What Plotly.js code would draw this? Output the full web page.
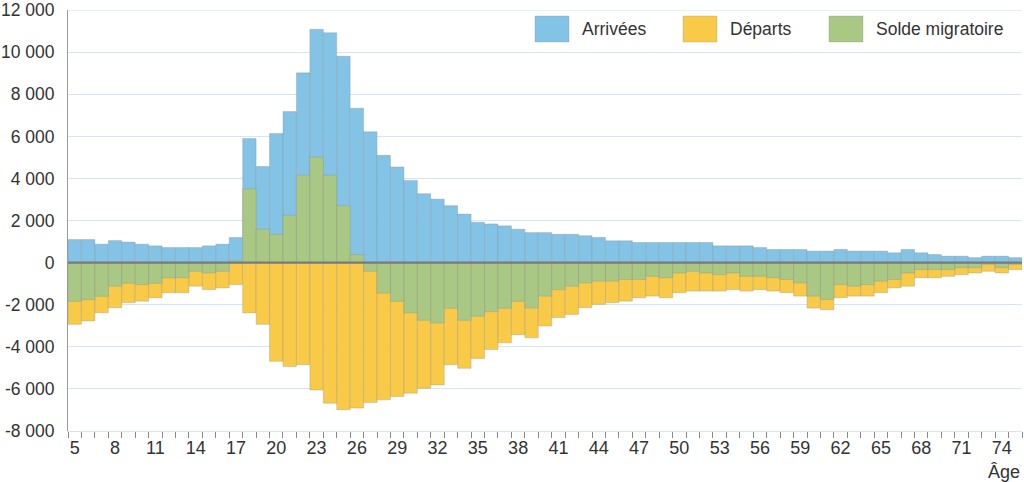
<!DOCTYPE html>
<html>
<head>
<meta charset="utf-8">
<script src="https://cdn.plot.ly/plotly-3.0.1.min.js"></script>
<style>html,body{margin:0;padding:0;background:#fff;}#chart{width:1024px;height:482px;}</style>
</head>
<body>
<div id="chart"></div>
<script>
const ages = [];
for (let a = 5; a <= 75; a++) ages.push(a);

const arrivees = [1100,1100,880,1050,980,880,800,720,720,720,800,880,1200,
  5900,4570,6140,7180,9020,11090,10930,9810,7340,6220,5100,4550,3910,3280,3020,2710,2310,1920,1840,1750,1590,
  1430,1430,1350,1350,1280,1200,1040,1040,960,960,960,960,960,960,800,800,800,720,630,630,630,550,550,630,550,550,550,470,630,470,390,310,310,240,310,310,240];

const departs = [-2930,-2770,-2380,-2140,-1900,-1830,-1670,-1430,-1430,-1120,-1280,-1200,-1040,
  -2390,-2930,-4690,-4940,-4850,-6050,-6680,-6990,-6910,-6650,-6520,-6360,-6200,-5970,-5810,-4850,-5020,-4550,-4130,-3810,-3420,
  -3570,-3010,-2610,-2460,-2140,-1980,-1900,-1830,-1670,-1590,-1670,-1430,-1350,-1350,-1350,-1280,-1350,-1280,-1350,-1430,-1590,-2160,-2240,-1670,-1590,-1590,-1430,-1200,-1120,-720,-720,-650,-570,-490,-410,-490,-330];

const solde = [-1840,-1760,-1600,-1120,-980,-1040,-980,-720,-720,-410,-490,-410,90,
  3510,1590,1350,2250,4160,5020,4160,2710,380,-410,-1450,-1840,-2390,-2740,-2870,-2170,-2740,-2550,-2330,-2170,-1840,
  -2160,-1590,-1280,-1120,-960,-880,-880,-800,-800,-650,-720,-490,-410,-490,-570,-490,-650,-650,-720,-800,-960,-1590,-1750,-1040,-1120,-1040,-880,-800,-490,-330,-330,-330,-240,-240,-80,-240,-80];

const seriesNames = ["Arrivées", "Départs", "Solde migratoire"];
const colors = ["#82c3e6", "#f9ca48", "#a8c884"];

const xTickVals = [5,8,11,14,17,20,23,26,29,32,35,38,41,44,47,50,53,56,59,62,65,68,71,74];
const yTickVals = [-8000,-6000,-4000,-2000,0,2000,4000,6000,8000,10000,12000];
const yTickText = ["-8 000","-6 000","-4 000","-2 000","0","2 000","4 000","6 000","8 000","10 000","12 000"];

const font = "Liberation Sans, Arial, sans-serif";
const edge = {color: "rgba(140,140,140,0.55)", width: 0.6};

const data = [arrivees, departs, solde].map((vals, i) => ({
  type: "bar", x: ages, y: vals, name: seriesNames[i],
  marker: {color: colors[i], line: edge}, width: 1, showlegend: false, hoverinfo: "x+y+name"
}));

const M = {l: 68, r: 2, t: 10, b: 51};
const plotW = 1024 - M.l - M.r, plotH = 482 - M.t - M.b;
const px = v => (v - M.l) / plotW;
const py = v => (482 - M.b - v) / plotH;

// Custom legend (large swatches)
const legX = [[535,569,580],[683,717,728],[829,863,874]];
const shapes = [];
const annotations = [];
legX.forEach((p, i) => {
  shapes.push({type: "rect", xref: "paper", yref: "paper", x0: px(p[0]), x1: px(p[1]), y0: py(42), y1: py(16),
    fillcolor: colors[i], line: {color: "rgba(140,140,140,0.5)", width: 0.6}});
  annotations.push({xref: "paper", yref: "paper", x: px(p[2]), y: py(29), xanchor: "left", yanchor: "middle",
    text: seriesNames[i], showarrow: false, font: {family: font, size: 17.5, color: "#333"}});
});
// top gridline (at the range edge)
shapes.push({type: "line", xref: "paper", yref: "y", x0: 0, x1: 1, y0: 12000, y1: 12000,
  line: {color: "#d5e5f3", width: 1}, layer: "below"});
shapes.push({type: "line", xref: "paper", yref: "y", x0: 0, x1: 1, y0: 0, y1: 0,
  line: {color: "#7a7a7a", width: 2.2}, layer: "above"});
annotations.push({xref: "paper", yref: "paper", x: 1, y: py(472), xanchor: "right", yanchor: "middle",
  text: "Âge", showarrow: false, font: {family: font, size: 18, color: "#333"}});

const layout = {
  width: 1024, height: 482,
  margin: M,
  paper_bgcolor: "#fff", plot_bgcolor: "#fff",
  barmode: "overlay", bargap: 0,
  font: {family: font, size: 18, color: "#333"},
  xaxis: {
    range: [4.5, 75.5], tickmode: "array", tickvals: xTickVals,
    ticks: "", ticklabelstandoff: 0,
    minor: {tick0: 4.5, dtick: 1, ticks: "outside", ticklen: 6, tickcolor: "#8a8a8a", tickwidth: 1, showgrid: false},
    showgrid: false, zeroline: false, showline: true, linecolor: "#d5e5f3", linewidth: 1,
    tickfont: {family: font, size: 18, color: "#333"}, fixedrange: true
  },
  yaxis: {
    range: [-8000, 12008], tickmode: "array", tickvals: yTickVals, ticktext: yTickText,
    showgrid: true, gridcolor: "#d5e5f3", gridwidth: 1, zeroline: false,
    showline: true, linecolor: "#9a9a9a", linewidth: 1,
    ticks: "", ticklabelstandoff: 9, ticklabeloverflow: "allow",
    tickfont: {family: font, size: 17.5, color: "#333"}, fixedrange: true
  },
  shapes: shapes, annotations: annotations, showlegend: false
};

Plotly.newPlot("chart", data, layout, {displayModeBar: false, staticPlot: true});
</script>
</body>
</html>
